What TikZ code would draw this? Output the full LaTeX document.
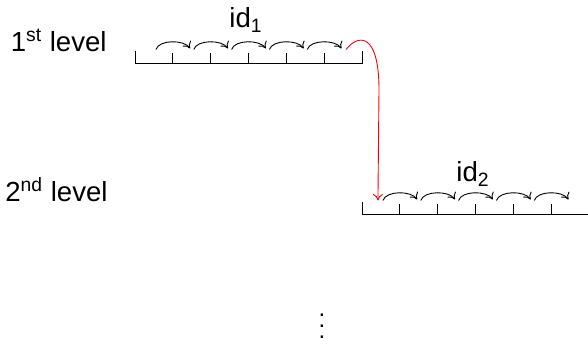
\documentclass[tikz,border=0pt]{standalone}
\usepackage{fontspec}
\setmainfont{Liberation Sans}
\usetikzlibrary{arrows.meta}
\begin{document}
\begin{tikzpicture}[x=0.5pt,y=-0.5pt,
  bar/.style={line width=0.45pt},
  hop/.style={-{To[length=3.2pt,width=5pt]}, line width=0.45pt},
  jump/.style={hop, red},
  lbl/.style={font=\fontsize{13.8}{16}\selectfont, inner sep=0pt}]
\useasboundingbox (0,0) rectangle (588,356);
\foreach \L/\x/\y in {A/135/63, B/362/214} {
  \draw[bar] (\x,\y-12) -- (\x,\y) -- (\x+227,\y) -- (\x+227,\y-12);
  \foreach \k in {1,...,5} \draw[bar] (\x+37.83*\k,\y) -- ++(0,-10);
  \foreach \k in {1,...,6} \coordinate (\L\k) at (\x+37.83*\k-18.9,\y-13.5);
}
\foreach \L in {A,B} {
  \foreach \k [evaluate=\k as \n using int(\k+1)] in {1,...,5}
    \draw[hop] ([xshift=1pt]\L\k) .. controls +(3,-10) and +(-6,-9) .. ([xshift=-0.8pt,yshift=0.5pt]\L\n);
}
\coordinate (bend) at (379,90);
\draw[jump] ([xshift=1.5pt]A6) .. controls (358,34) and (379,32) .. (bend) -- ([xshift=-1.5pt]B1);
\node[lbl, anchor=base east] (l1) at (107,52) {1\textsuperscript{st} level};
\node[lbl, anchor=base east] (l2) at (108,202) {2\textsuperscript{nd} level};
\node[lbl, anchor=base] (id1) at (246,28) {id\textsubscript{1}};
\node[lbl, anchor=base] (id2) at (473,182) {id\textsubscript{2}};
\node[inner sep=0pt, align=center, font=\fontsize{12}{5.6}\selectfont] (dots) at (322,326) {.\\.\\.};
\end{tikzpicture}
\end{document}
